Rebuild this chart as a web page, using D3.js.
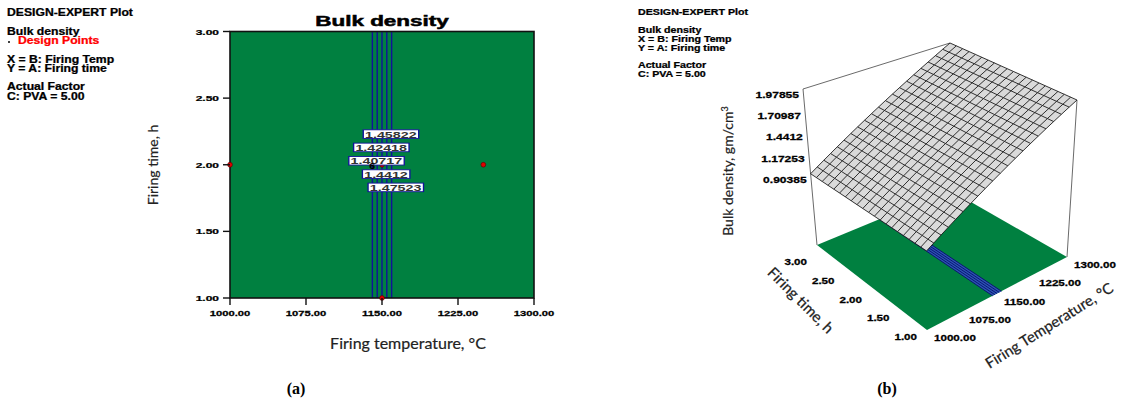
<!DOCTYPE html>
<html>
<head>
<meta charset="utf-8">
<script src="https://cdn.jsdelivr.net/npm/d3@7"></script>
<style>
  body { margin: 0; background: #fff; }
  svg { display: block; }
</style>
</head>
<body>
<svg id="chart" width="1121" height="402"></svg>
<script>
// ---------------- data ----------------
const tempTicks = [1000, 1075, 1150, 1225, 1300];          // firing temperature, °C
const timeTicks = [1.00, 1.50, 2.00, 2.50, 3.00];           // firing time, h
const contourLevels = [1.40717, 1.42418, 1.4412, 1.45822, 1.47523];
const contourLabelTimes = [2.03, 2.13, 1.93, 2.23, 1.83];   // where each contour label sits
const designTemps = [1000, 1250, 1150, 1150];
const designTimes = [2.00, 2.00, 1.00, 2.00];
const centerReplicates = "6";
const responseTicks = [0.90385, 1.17253, 1.4412, 1.70987, 1.97855];
// fitted response plane: bulk density at the low / high firing temperature
const surfaceTemps = [1000, 1300];
const surfaceDensity = [0.90385, 1.97855];
const responseFloor = 0;

const GREEN = "#008040";
const NAVY = "#12129a";
const svg = d3.select("#chart");

// stretched heavy label text (Design-Expert style)
function stext(g, str, x, y, o = {}) {
  const fill = o.fill || "#000";
  return g.append("text")
    .attr("transform", `translate(${x},${y}) scale(${o.sx ?? 1.2},1)`)
    .attr("text-anchor", o.anchor || "start")
    .attr("font-family", o.family || "'Liberation Sans', Arial, sans-serif")
    .attr("font-weight", o.weight || "bold")
    .attr("font-size", o.size || 9)
    .attr("fill", fill)
    .attr("stroke", fill).attr("stroke-width", o.heavy ?? 0.25)
    .text(str);
}

// ---------------- header blocks ----------------
const hdrA = svg.append("g");
[["DESIGN-EXPERT Plot", 12], ["Bulk density", 31], ["X = B: Firing Temp", 59],
 ["Y = A: Firing time", 68], ["Actual Factor", 86], ["C: PVA = 5.00", 96]]
  .forEach(([s, y]) => stext(hdrA, s, 7, y + 3.6, { size: 10, sx: 1.22 }));
hdrA.append("circle").attr("cx", 9).attr("cy", 42).attr("r", 1).attr("fill", "#000");
stext(hdrA, "Design Points", 18, 40 + 3.6, { size: 10, sx: 1.22, fill: "#ff0000" });

const hdrB = svg.append("g");
[["DESIGN-EXPERT Plot", 12], ["Bulk density", 30], ["X = B: Firing Temp", 39],
 ["Y = A: Firing time", 48], ["Actual Factor", 65], ["C: PVA = 5.00", 74]]
  .forEach(([s, y]) => stext(hdrB, s, 638, y + 3.1, { size: 8.6, sx: 1.24 }));

// ---------------- (a) contour plot ----------------
const x = d3.scaleLinear().domain([1000, 1300]).range([230, 534]);
const y = d3.scaleLinear().domain([1, 3]).range([298, 31.5]);
const tempAtDensity = d3.scaleLinear().domain(surfaceDensity).range(surfaceTemps);

const pa = svg.append("g");
pa.append("rect").attr("x", x(1000)).attr("y", y(3))
  .attr("width", x(1300) - x(1000)).attr("height", y(1) - y(3))
  .attr("fill", GREEN);

contourLevels.forEach(lv => {
  pa.append("line").attr("x1", x(tempAtDensity(lv))).attr("x2", x(tempAtDensity(lv)))
    .attr("y1", y(3)).attr("y2", y(1)).attr("stroke", NAVY).attr("stroke-width", 1.4);
});

pa.append("rect").attr("x", x(1000)).attr("y", y(3))
  .attr("width", x(1300) - x(1000)).attr("height", y(1) - y(3))
  .attr("fill", "none").attr("stroke", "#111").attr("stroke-width", 1.6);

// design points
designTemps.forEach((T, i) => {
  pa.append("circle").attr("cx", x(T)).attr("cy", y(designTimes[i])).attr("r", 2.4)
    .attr("fill", "#e00000").attr("stroke", "#500").attr("stroke-width", 0.6);
});

// contour value tags
contourLevels.forEach((lv, i) => {
  const g = pa.append("g")
    .attr("transform", `translate(${x(tempAtDensity(lv)) + 4},${y(contourLabelTimes[i])}) scale(1.5,1)`);
  const t = g.append("text").attr("text-anchor", "middle").attr("dy", "0.36em")
    .attr("font-family", "'Liberation Sans', Arial, sans-serif").attr("font-size", 9.5)
    .attr("font-weight", "bold").attr("fill", "#333").text(d3.format(".6~r")(lv));
  const b = t.node().getBBox();
  g.insert("rect", "text").attr("x", b.x - 1.2).attr("y", -4.3).attr("width", b.width + 2.4).attr("height", 8.6)
    .attr("fill", "#fff").attr("stroke", NAVY).attr("stroke-width", 0.9);
});
stext(pa, centerReplicates, x(1150) - 10, y(2) + 4.5, { size: 8.5, sx: 1.2, anchor: "middle" });

// axes
const ax = pa.append("g");
tempTicks.forEach(v => {
  ax.append("line").attr("x1", x(v)).attr("x2", x(v)).attr("y1", y(1)).attr("y2", y(1) + 7)
    .attr("stroke", "#111").attr("stroke-width", 1.4);
  stext(ax, d3.format(".2f")(v), x(v), 316, { size: 8, sx: 1.4, anchor: "middle" });
});
timeTicks.forEach(v => {
  ax.append("line").attr("x1", x(1000) - 7).attr("x2", x(1000)).attr("y1", y(v)).attr("y2", y(v))
    .attr("stroke", "#111").attr("stroke-width", 1.4);
  stext(ax, d3.format(".2f")(v), 219, y(v) + 3, { size: 8, sx: 1.5, anchor: "end" });
});

stext(pa, "Bulk density", 382, 26, { size: 14.5, sx: 1.55, anchor: "middle", heavy: 0.5 });
pa.append("text").attr("x", 408).attr("y", 349).attr("text-anchor", "middle")
  .attr("font-family", "Lato, 'Open Sans', sans-serif").attr("font-size", 16).attr("fill", "#222")
  .attr("stroke", "#222").attr("stroke-width", 0.2)
  .text("Firing temperature, °C");
pa.append("text").attr("transform", "translate(158,165) rotate(-90)").attr("text-anchor", "middle")
  .attr("font-family", "Lato, 'Open Sans', sans-serif").attr("font-size", 14).attr("fill", "#222")
  .attr("stroke", "#222").attr("stroke-width", 0.2)
  .text("Firing time, h");

// ---------------- (b) response surface ----------------
// screen positions of the bounding box corners, keyed [temperature][time][response]
const corner = {
  "000": [927, 330], "100": [1067, 257], "010": [817, 245], "110": [950, 190],
  "001": [926, 157], "101": [1077, 100], "011": [803, 89], "111": [950, 43]
};
const u = d3.scaleLinear().domain([1000, 1300]);
const v = d3.scaleLinear().domain([1, 3]);
const w = d3.scaleLinear().domain([responseFloor, d3.max(responseTicks)]);
function proj(T, t, z) {
  const a = u(T), b = v(t), c = w(z);
  const lerp = (p, q, f) => [p[0] + (q[0] - p[0]) * f, p[1] + (q[1] - p[1]) * f];
  const e00 = lerp(corner["000"], corner["100"], a), e10 = lerp(corner["010"], corner["110"], a);
  const e01 = lerp(corner["001"], corner["101"], a), e11 = lerp(corner["011"], corner["111"], a);
  return lerp(lerp(e00, e10, b), lerp(e01, e11, b), c);
}
const densityAt = d3.scaleLinear().domain(surfaceTemps).range(surfaceDensity);
const line = d3.line();
const pb = svg.append("g");

// floor with projected contours
pb.append("path").attr("d", line([
  proj(1000, 1, responseFloor), proj(1300, 1, responseFloor),
  proj(1300, 3, responseFloor), proj(1000, 3, responseFloor)]) + "Z").attr("fill", GREEN);
const lo = tempAtDensity(d3.min(contourLevels)), hi = tempAtDensity(d3.max(contourLevels));
pb.append("path").attr("d", line([
  proj(lo, 1, responseFloor), proj(hi, 1, responseFloor),
  proj(hi, 3, responseFloor), proj(lo, 3, responseFloor)]) + "Z").attr("fill", "#2a55b0");
contourLevels.forEach(lv => {
  const T = tempAtDensity(lv);
  pb.append("path").attr("d", line([proj(T, 1, responseFloor), proj(T, 3, responseFloor)]))
    .attr("stroke", "#0a0a70").attr("stroke-width", 0.9).attr("fill", "none");
});

// box edges
[["010", "011"], ["011", "111"], ["101", "100"]].forEach(([p, q]) => {
  pb.append("path").attr("d", line([corner[p], corner[q]]))
    .attr("stroke", "#444").attr("stroke-width", 0.8).attr("fill", "none");
});

// surface mesh
const nMesh = 20;
const tGrid = d3.range(nMesh + 1).map(i => 1 + 2 * i / nMesh);
const TGrid = d3.range(nMesh + 1).map(i => 1000 + 300 * i / nMesh);
const outline = []
  .concat(TGrid.map(T => proj(T, 1, densityAt(T))))
  .concat(tGrid.map(t => proj(1300, t, densityAt(1300))))
  .concat(TGrid.slice().reverse().map(T => proj(T, 3, densityAt(T))))
  .concat(tGrid.slice().reverse().map(t => proj(1000, t, densityAt(1000))));
pb.append("path").attr("d", line(outline) + "Z").attr("fill", "#dadada");
const mesh = pb.append("g").attr("fill", "none").attr("stroke", "#111").attr("stroke-width", 0.85);
TGrid.forEach(T => mesh.append("path").attr("d", line(tGrid.map(t => proj(T, t, densityAt(T))))));
tGrid.forEach(t => mesh.append("path").attr("d", line(TGrid.map(T => proj(T, t, densityAt(T))))));

// response axis labels
responseTicks.forEach(z => {
  const p = proj(1000, 3, z);
  stext(pb, String(z), p[0] - 4, p[1] + 9, { size: 8.6, sx: 1.4, anchor: "end" });
});
// time labels along the left floor edge
timeTicks.forEach(t => {
  const p = proj(1000, t, responseFloor);
  stext(pb, d3.format(".2f")(t), p[0] - 10, p[1] + 10 + (t - 1) * 5, { size: 8.6, sx: 1.35, anchor: "end" });
});
// temperature labels along the front floor edge
tempTicks.forEach(T => {
  const p = proj(T, 1, responseFloor);
  stext(pb, d3.format(".2f")(T), p[0] + 7, p[1] + 11, { size: 8.6, sx: 1.35, anchor: "start" });
});

const title3 = pb.append("text").attr("transform", "translate(733,171) rotate(-90)")
  .attr("text-anchor", "middle").attr("font-family", "Lato, 'Open Sans', sans-serif")
  .attr("font-size", 14).attr("fill", "#222").attr("stroke", "#222").attr("stroke-width", 0.2);
title3.append("tspan").text("Bulk density, gm/cm");
title3.append("tspan").attr("dy", -5).attr("font-size", 9).text("3");
pb.append("text").attr("transform", "translate(797,304) rotate(45)")
  .attr("text-anchor", "middle").attr("font-family", "Lato, 'Open Sans', sans-serif")
  .attr("font-size", 15).attr("fill", "#222").attr("stroke", "#222").attr("stroke-width", 0.25)
  .text("Firing time, h");
pb.append("text").attr("transform", "translate(1052,330) rotate(-32)")
  .attr("text-anchor", "middle").attr("font-family", "Lato, 'Open Sans', sans-serif")
  .attr("font-size", 15).attr("fill", "#222").attr("stroke", "#222").attr("stroke-width", 0.25)
  .text("Firing Temperature, °C");

// panel captions
[["(a)", 296], ["(b)", 887]].forEach(([s, cx]) => {
  svg.append("text").attr("x", cx).attr("y", 394).attr("text-anchor", "middle")
    .attr("font-family", "'Liberation Serif', 'Times New Roman', serif").attr("font-weight", "bold")
    .attr("font-size", 16).text(s);
});
</script>
</body>
</html>
